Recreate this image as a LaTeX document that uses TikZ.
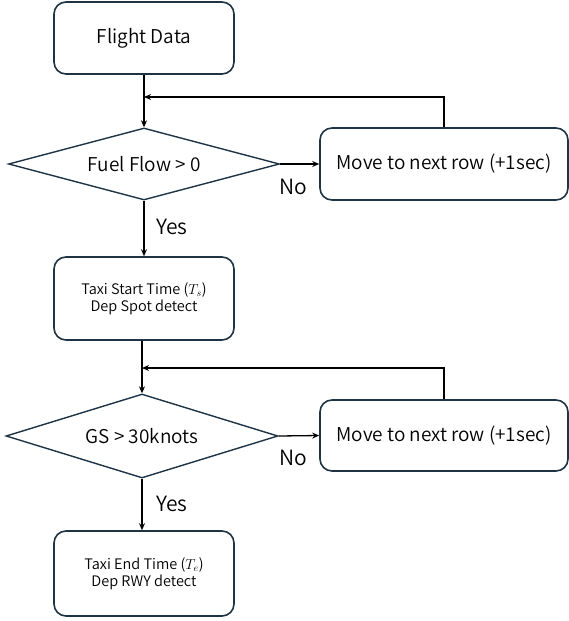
\documentclass[tikz,border=0pt]{standalone}
\usepackage{fontspec}
\setmainfont{Noto Sans CJK JP DemiLight}
\usetikzlibrary{shapes.geometric,arrows.meta}
\definecolor{boxline}{HTML}{1E3444}
\tikzset{
  rbox/.style={draw=boxline, line width=1.6pt, rounded corners=12pt, align=center, inner sep=0pt},
  dec/.style={draw=boxline, line width=1.4pt, diamond, inner sep=0pt, aspect=3.5},
  conn/.style={draw=black, line width=1.3pt, -{Stealth[length=7pt,width=6pt]}},
  big/.style={font=\fontsize{19}{22}\selectfont},
  small/.style={font=\fontsize{14.5}{17}\selectfont},
  lab/.style={font=\fontsize{21}{24}\selectfont, inner sep=0pt},
}
\begin{document}
\begin{tikzpicture}[x=1pt,y=-1pt]
\useasboundingbox (0,0) rectangle (569,621);
\node[rbox, big, minimum width=180pt, minimum height=72pt] (fd) at (144,38) {Flight Data};
\node[dec, big, minimum width=271pt, minimum height=72pt] (d1) at (144,164) {Fuel Flow > 0};
\node[rbox, big, minimum width=248pt, minimum height=72pt] (m1) at (444,164) {Move to next row (+1sec)};
\node[rbox, small, minimum width=180pt, minimum height=83pt] (ts) at (144,298.5) {Taxi Start Time ($T_s$)\\Dep Spot detect};
\node[dec, big, minimum width=272pt, minimum height=84pt] (d2) at (142,436) {GS > 30knots};
\node[rbox, big, minimum width=248pt, minimum height=71pt] (m2) at (444,435.5) {Move to next row (+1sec)};
\node[rbox, small, minimum width=180pt, minimum height=85pt] (te) at (144,573.5) {Taxi End Time ($T_e$)\\Dep RWY detect};

\coordinate (j1) at (144,97);
\coordinate (j2) at (142,368);

\draw[conn] (fd.south) -- (d1.north);
\draw[conn] (d1.east) -- (m1.west);
\draw[conn] (m1.north) |- (j1);
\draw[conn] (d1.south) -- (ts.north -| d1.south);
\draw[conn] (ts.south -| d2.north) -- (d2.north);
\draw[conn] (d2.east) -- (m2.west);
\draw[conn] (m2.north) |- (j2);
\draw[conn] (d2.south) -- (te.north -| d2.south);

\node[lab] (no1) at (293,187) {No};
\node[lab] (yes1) at (172,227) {Yes};
\node[lab] (no2) at (293,458) {No};
\node[lab] (yes2) at (172,504) {Yes};
\end{tikzpicture}
\end{document}
